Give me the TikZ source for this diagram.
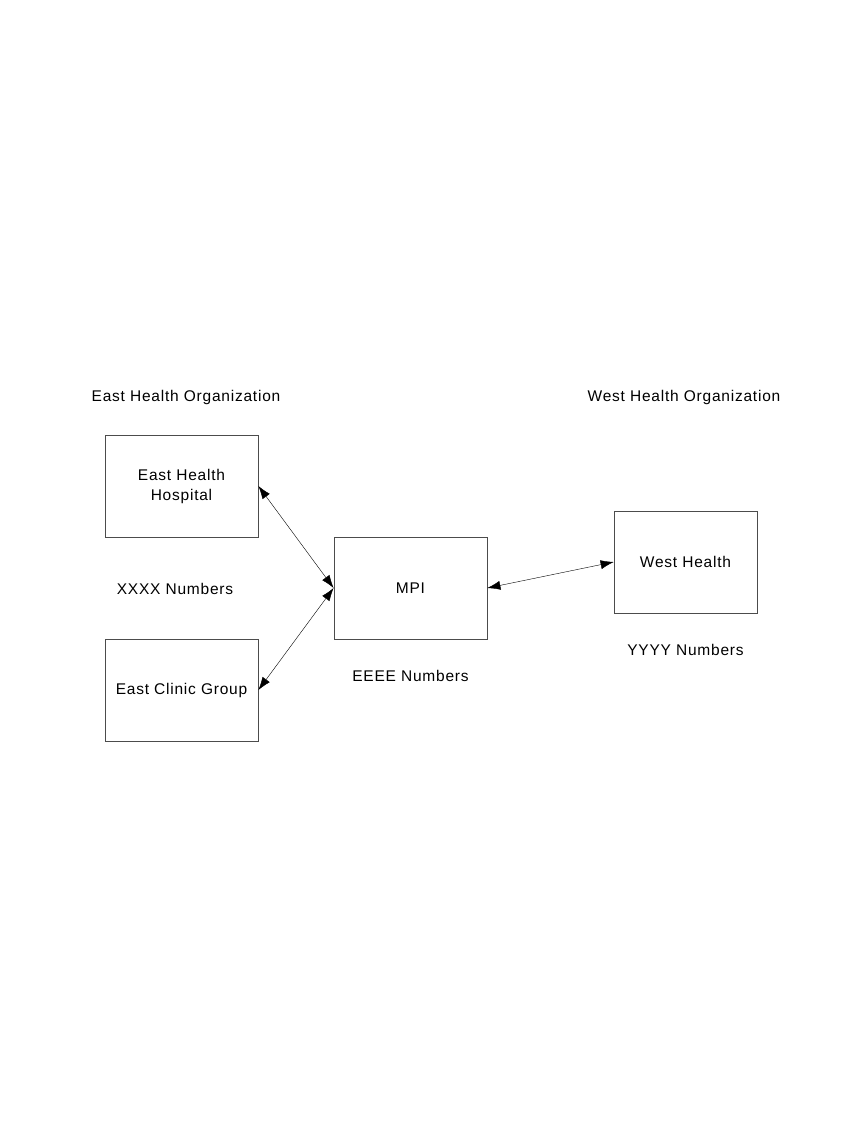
\documentclass[tikz,border=0pt]{standalone}
\usepackage{fontspec}
\setmainfont{Liberation Sans}[LetterSpace=5]
\usetikzlibrary{shapes,arrows.meta,positioning}
\tikzset{
    site/.style = {rectangle, minimum width=153pt, minimum height=102pt, inner sep=0pt, align=center, draw=black!70, line width=0.8pt},
    label/.style = {inner sep=0pt, align=center},
    link/.style = {{Latex[length=13pt,width=9pt]}-{Latex[length=13pt,width=9pt]}, line width=0.4pt}
}
\begin{document}
\begin{tikzpicture}[x=1pt, y=-1pt, font=\fontsize{15.5}{20}\selectfont]
    \useasboundingbox (0,0) rectangle (867,1122);

    % Organizations
    \node [label] (eastorg) at (186,397) {East Health Organization};
    \node [label] (westorg) at (684,397) {West Health Organization};

    % Systems
    \node [site] (hospital) at (181.5,486) {East Health\\Hospital};
    \node [site] (clinic) at (181.5,690) {East Clinic Group};
    \node [site] (mpi) at (410.5,588) {MPI};
    \node [site, minimum width=143pt] (west) at (685.5,562) {West Health};

    % Numbers
    \node [label] (xxxx) at (175,589) {XXXX Numbers};
    \node [label, below=31pt of mpi.south] (eeee) {EEEE Numbers};
    \node [label, below=31pt of west.south] (yyyy) {YYYY Numbers};

    % Links
    \draw [link] (hospital.east) -- (mpi.west);
    \draw [link] (clinic.east) -- (mpi.west);
    \draw [link] (mpi.east) -- (west.west);
\end{tikzpicture}
\end{document}
